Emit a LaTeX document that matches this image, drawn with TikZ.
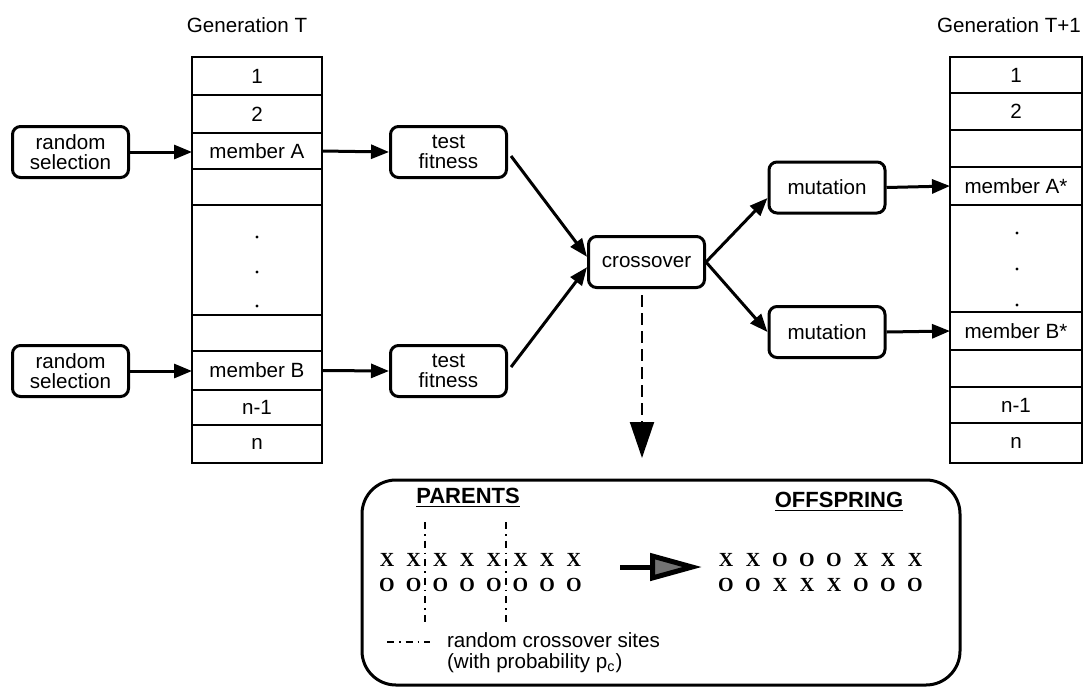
\documentclass[tikz,border=0pt]{standalone}
\usepackage{fontspec}
\setmainfont{Liberation Sans}
\newfontfamily\bitfont{Liberation Serif}
\usetikzlibrary{arrows.meta,positioning}

\begin{document}
\begin{tikzpicture}[
			x=0.5pt, y=-0.5pt,
			font=\fontsize{10.3}{10}\selectfont,
			cell/.style={
				draw,
				line width=1.4pt,
				inner sep=0,
				outer sep=0
			},
			proc/.style={
				draw,
				line width=1.5pt,
				rounded corners=4pt,
				minimum width=58pt,
				minimum height=25.5pt,
				inner sep=1pt,
				align=center
			},
			flow/.style={
				-{Triangle[length=9pt,width=7pt]},
				line width=1.5pt
			},
			bit/.style={
				font=\bitfont\bfseries\fontsize{10}{10}\selectfont,
				inner sep=0
			},
			head/.style={
				font=\bfseries\fontsize{11}{11}\selectfont
			},
			site/.style={
				line width=0.9pt,
				dash pattern=on 3.5pt off 2.5pt on 0.8pt off 2.5pt
			}
		]
		\useasboundingbox (0,0) rectangle (1091,686);

		% population columns
		\node (genT) at (247,25) {Generation T};
		\foreach \i/\c/\h/\t in {1/76/38/1, 2/114/38/2, 3/151/36/member A, 4/187/36/{},
			5/260/110/{}, 6/333/36/{}, 7/370.5/39/member B, 8/407.5/35/n-1, 9/444/38/n}{%
			\node [cell, minimum width=65pt, minimum height=\h*0.5pt] (L\i) at (257,\c) {\t};
		}
		\node (genT1) at (1009,25) {Generation T+1};
		\foreach \i/\c/\h/\t in {1/75/36/1, 2/111.5/37/2, 3/148.5/37/{}, 4/186/38/member A*,
			5/258.5/107/{}, 6/331/38/member B*, 7/368.5/37/{}, 8/405/36/n-1, 9/443/40/n}{%
			\node [cell, minimum width=66pt, minimum height=\h*0.5pt] (R\i) at (1016,\c) {\t};
		}
		\foreach \y in {237, 272, 306}{%
			\fill (257,\y) circle[radius=0.8pt];
		}
		\foreach \y in {233, 269, 305}{%
			\fill (1017,\y) circle[radius=0.8pt];
		}

		% operators
		\node [proc] (rs1) at (70.5,152) {random\\selection};
		\node [proc] (rs2) at (70.5,371) {random\\selection};
		\node [proc] (tf1) at (448.5,152) {test\\fitness};
		\node [proc] (tf2) at (448.5,371) {test\\fitness};
		\node [proc] (cx) at (646.5,262) {crossover};
		\node [proc] (mu1) at (827,187.5) {mutation};
		\node [proc] (mu2) at (827,332) {mutation};

		\draw [flow] (rs1.east) -- (rs1.east -| L3.west);
		\draw [flow] (rs2.east) -- (rs2.east -| L7.west);
		\draw [flow] (L3.east) -- (tf1.west);
		\draw [flow] (L7.east) -- (tf2.west);
		\draw [flow, shorten <=2.5pt] (tf1.east) -- (cx.175);
		\draw [flow, shorten <=2.5pt] (tf2.east) -- (cx.185);
		\draw [flow] (cx.east) -- (mu1.190);
		\draw [flow] (cx.east) -- (mu2.west);
		\draw [flow] (mu1.east) -- (R4.west);
		\draw [flow] (mu2.east) -- (R6.west);

		% crossover detail
		\node [draw, line width=1.5pt, rounded corners=17pt, minimum width=299pt,
			minimum height=102.5pt] (detail) at (661,582.5) {};
		\coordinate (tip) at (642,458);
		\draw [line width=1pt, dash pattern=on 6pt off 3pt, shorten <=3pt,
			-{Triangle[length=18pt,width=12pt]}] ([xshift=-2.25pt]cx.south) -- (tip);

		\node [head] (par) at (468,498) {\underline{PARENTS}};
		\node [head] (off) at (839,502) {\underline{OFFSPRING}};
		\foreach \i in {1,...,8}{%
			\node [bit] (pa\i) at (360.3+26.7*\i,560) {X};
			\node [bit] (pb\i) at (360.3+26.7*\i,585) {O};
		}
		\foreach \a/\b [count=\i] in {X/O, X/O, O/X, O/X, O/X, X/O, X/O, X/O}{%
			\node [bit] (oa\i) at (699+27*\i,560) {\a};
			\node [bit] (ob\i) at (699+27*\i,585) {\b};
		}
		\coordinate (s1) at (425,522);
		\coordinate (s1e) at (425,623);
		\coordinate (s2) at (506,522);
		\coordinate (s2e) at (506,623);
		\draw [site] (s1) -- (s1e);
		\draw [site] (s2) -- (s2e);
		\coordinate (k1) at (387,642);
		\coordinate (k2) at (430,642);
		\draw [site] (k1) -- (k2);
		\node [anchor=west, align=left, font=\fontsize{10.3}{10.5}\selectfont] (key) at (440,653)
			{random crossover sites\\(with probability p\textsubscript{c})};

		\coordinate (b1) at (620,567);
		\coordinate (b2) at (702,567);
		\draw [line width=2.5pt, -{Triangle[length=26pt,width=13.5pt,fill=black!55]}] (b1) -- (b2);

	\end{tikzpicture}
\end{document}
